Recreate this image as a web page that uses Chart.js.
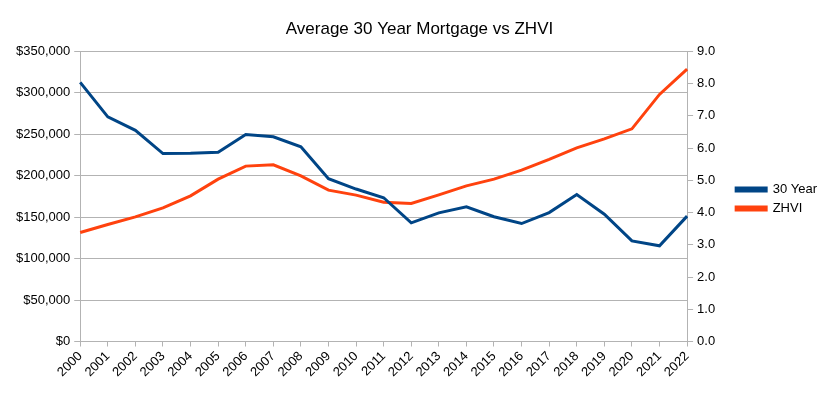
<!DOCTYPE html>
<html>
<head>
<meta charset="utf-8">
<script src="https://cdn.jsdelivr.net/npm/chart.js@4/dist/chart.umd.min.js"></script>
<style>
  html, body { margin: 0; padding: 0; background: #fff; }
  #wrap { width: 827px; height: 396px; }
</style>
</head>
<body>
<div id="wrap"><canvas id="chart" width="827" height="396"></canvas></div>
<script>
// years on the x axis
var years = ["2000","2001","2002","2003","2004","2005","2006","2007","2008","2009","2010",
             "2011","2012","2013","2014","2015","2016","2017","2018","2019","2020","2021","2022"];

// average 30 year mortgage rate (right axis, %)
var rate30 = [8.04, 6.97, 6.55, 5.83, 5.84, 5.87, 6.42, 6.35, 6.04, 5.05, 4.73,
              4.46, 3.68, 3.99, 4.18, 3.87, 3.66, 4.00, 4.56, 3.95, 3.12, 2.97, 3.89];

// Zillow home value index (left axis, $)
var zhvi = [131500, 141200, 150400, 161200, 175700, 195900, 211600, 213200, 199900, 182600, 176600,
            168100, 166600, 176900, 187800, 195900, 206700, 219700, 233700, 244500, 256600, 298100, 328600];

var leftTicks = { min: 0, max: 350000, step: 50000 };
var rightTicks = { min: 0, max: 9, step: 1 };

var gridColor = "#b3b3b3";
var fontFamily = "'Liberation Sans', Arial, sans-serif";

new Chart(document.getElementById("chart"), {
    type: "line",
    data: {
        labels: years,
        datasets: [
            {
                label: "30 Year",
                data: rate30,
                yAxisID: "y1",
                borderColor: "#004586",
                backgroundColor: "#004586",
                borderWidth: 3,
                pointRadius: 0,
                tension: 0,
                fill: false
            },
            {
                label: "ZHVI",
                data: zhvi,
                yAxisID: "y",
                borderColor: "#ff420e",
                backgroundColor: "#ff420e",
                borderWidth: 3,
                pointRadius: 0,
                tension: 0,
                fill: false
            }
        ]
    },
    options: {
        responsive: false,
        animation: false,
        devicePixelRatio: 1,
        layout: { padding: { left: 12, right: 0, top: 6, bottom: 14 } },
        plugins: {
            title: {
                display: true,
                text: "Average 30 Year Mortgage vs ZHVI",
                color: "#000",
                font: { family: fontFamily, size: 17, weight: "normal" },
                padding: { top: 13, bottom: 12 }
            },
            legend: {
                position: "right",
                // empty title just pushes the entries down a little
                title: { display: true, text: " ", font: { size: 1 }, padding: { top: 0, bottom: 9 } },
                labels: {
                    color: "#000",
                    font: { family: fontFamily, size: 13 },
                    boxWidth: 30,
                    boxHeight: 3,
                    padding: 6
                }
            },
            tooltip: { enabled: false }
        },
        scales: {
            x: {
                offset: false,
                grid: { drawOnChartArea: false, drawTicks: true, tickLength: 5, color: gridColor },
                border: { color: gridColor },
                ticks: {
                    color: "#000",
                    font: { family: fontFamily, size: 13 },
                    minRotation: 45,
                    maxRotation: 45,
                    autoSkip: false,
                    padding: 2
                }
            },
            y: {
                position: "left",
                min: leftTicks.min,
                max: leftTicks.max,
                grid: { color: gridColor, tickLength: 6 },
                border: { color: gridColor },
                ticks: {
                    stepSize: leftTicks.step,
                    color: "#000",
                    font: { family: fontFamily, size: 13 },
                    padding: 4,
                    callback: function (v) { return "$" + v.toLocaleString("en-US"); }
                }
            },
            y1: {
                position: "right",
                min: rightTicks.min,
                max: rightTicks.max,
                grid: { drawOnChartArea: false, color: gridColor, tickLength: 6 },
                border: { color: gridColor },
                ticks: {
                    stepSize: rightTicks.step,
                    color: "#000",
                    font: { family: fontFamily, size: 13 },
                    padding: 4,
                    callback: function (v) { return v.toFixed(1); }
                },
                // leave room between the right axis labels and the legend
                afterFit: function (scale) { scale.width += 11; }
            }
        }
    }
});
</script>
</body>
</html>
